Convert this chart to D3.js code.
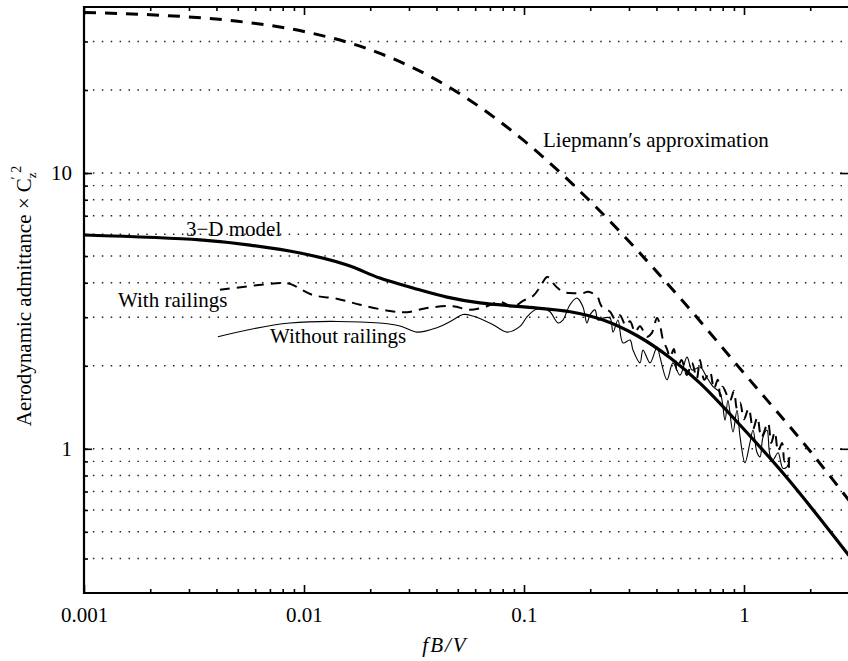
<!DOCTYPE html>
<html>
<head>
<meta charset="utf-8">
<script src="https://cdn.jsdelivr.net/npm/d3@7"></script>
<style>
  body { margin: 0; background: #fff; }
  text { font-family: "Liberation Serif", "Times New Roman", serif; fill: #000; }
</style>
</head>
<body>
<svg id="chart" width="848" height="661"></svg>
<script>
// Liepmann's approximation (thick dashed)
const freqLiepmann = [0.001, 0.002, 0.005, 0.01, 0.02, 0.05, 0.1, 0.2, 0.5, 1, 2, 3];
const valLiepmann = [38.2, 37.5, 35.5, 32.6, 28, 19.6, 13.1, 7.9, 3.6, 1.88, 0.98, 0.65];

// 3-D model (thick solid)
const freq3D = [0.001, 0.00337, 0.00568, 0.0096, 0.0157, 0.0221, 0.0313, 0.0447, 0.0631, 0.1, 0.162, 0.229, 0.327, 0.461, 0.631, 0.959, 1.568, 3];
const val3D = [5.96, 5.72, 5.48, 5.13, 4.64, 4.16, 3.83, 3.55, 3.38, 3.27, 3.14, 2.93, 2.57, 2.14, 1.73, 1.22, 0.785, 0.41];

// measured, with railings (thin dashed)
const freqWith = [0.00415, 0.0078, 0.0086, 0.011, 0.0141, 0.018, 0.0246, 0.0294, 0.0362, 0.0475, 0.0568, 0.0679, 0.0778, 0.0892, 0.0989,
  0.1099, 0.1183, 0.1273, 0.134, 0.1355, 0.1503, 0.1618, 0.1854, 0.1954, 0.2148, 0.2213, 0.2262, 0.246, 0.26, 0.2729, 0.29, 0.3034,
  0.32, 0.3366, 0.3624, 0.38, 0.4025, 0.415, 0.4285, 0.4467, 0.4611, 0.48, 0.4958, 0.52, 0.55, 0.58, 0.61, 0.631, 0.66, 0.70, 0.73,
  0.76, 0.78, 0.80, 0.864, 0.90, 0.929, 0.96, 1.0, 1.05, 1.10, 1.15, 1.20, 1.285, 1.33, 1.38, 1.43, 1.49, 1.53, 1.585, 1.60];
const valWith = [3.77, 3.99, 3.97, 3.61, 3.50, 3.33, 3.16, 3.13, 3.24, 3.29, 3.19, 3.29, 3.41, 3.27, 3.44,
  3.58, 3.86, 4.20, 4.10, 3.99, 3.71, 3.67, 3.67, 3.71, 3.58, 3.38, 3.27, 3.14, 2.95, 3.05, 2.80, 2.90,
  2.65, 2.78, 2.55, 2.62, 2.98, 2.81, 2.48, 2.30, 2.15, 2.30, 1.93, 2.10, 1.85, 2.05, 1.80, 2.10, 1.78, 1.90, 1.65,
  1.78, 1.55, 1.68, 1.50, 1.62, 1.40, 1.47, 1.28, 1.40, 1.18, 1.30, 1.10, 1.24, 1.05, 1.15, 0.98, 1.05, 0.90, 0.94, 0.82];

// measured, without railings (thin solid)
const freqWithout = [0.00406, 0.00864, 0.0221, 0.0273, 0.0326, 0.0402, 0.0475, 0.0528, 0.0586, 0.0723, 0.0837, 0.0959, 0.1032, 0.1122,
  0.1207, 0.1312, 0.1428, 0.1503, 0.1618, 0.1742, 0.1854, 0.1932, 0.1995, 0.2103, 0.2168, 0.2286, 0.246, 0.254, 0.2674, 0.2818,
  0.3034, 0.3129, 0.3366, 0.3475, 0.374, 0.4025, 0.415, 0.4467, 0.4754, 0.5117, 0.5508, 0.5807, 0.631, 0.6792, 0.7229, 0.7778,
  0.82, 0.845, 0.891, 0.929, 0.959, 1.01, 1.064, 1.099, 1.146, 1.183, 1.219, 1.272, 1.312, 1.355, 1.428, 1.503, 1.568, 1.618];
const valWithout = [2.55, 2.86, 2.86, 2.79, 2.65, 2.75, 2.93, 3.07, 3.03, 2.82, 2.65, 2.78, 3.01, 3.19,
  3.24, 3.14, 2.86, 2.93, 3.33, 3.52, 3.27, 2.86, 3.06, 3.19, 2.93, 2.98, 2.98, 2.65, 2.93, 2.42,
  2.48, 2.28, 2.05, 2.28, 2.05, 2.34, 2.15, 1.78, 2.05, 1.85, 2.15, 1.93, 1.98, 1.81, 1.68, 1.60,
  1.27, 1.50, 1.15, 1.38, 1.11, 0.89, 1.05, 1.17, 0.97, 0.935, 1.10, 1.17, 0.95, 0.912, 0.967, 0.85, 0.86, 0.935];

const xMajorTicks = [0.001, 0.01, 0.1, 1];
const xMinorTicks = [0.002, 0.003, 0.004, 0.005, 0.006, 0.007, 0.008, 0.009,
  0.02, 0.03, 0.04, 0.05, 0.06, 0.07, 0.08, 0.09,
  0.2, 0.3, 0.4, 0.5, 0.6, 0.7, 0.8, 0.9, 2];
const yMajorTicks = [1, 10];
const yGridValues = [0.4, 0.5, 0.6, 0.7, 0.8, 0.9, 1, 2, 3, 4, 5, 6, 7, 8, 9, 10, 20, 30];

const svg = d3.select("#chart");
const plotLeft = 84, plotRight = 848, plotTop = 7, plotBottom = 593;

const x = d3.scaleLog().domain([0.001, 2.97]).range([plotLeft, plotRight]);
const y = d3.scaleLog().domain([0.3, 40]).range([plotBottom, plotTop]);

svg.append("defs").append("clipPath").attr("id", "plotClip")
  .append("rect").attr("x", plotLeft).attr("y", plotTop)
  .attr("width", plotRight - plotLeft).attr("height", plotBottom - plotTop);

// dotted grid
svg.append("g")
  .selectAll("line")
  .data(yGridValues)
  .join("line")
  .attr("x1", plotLeft)
  .attr("x2", plotRight)
  .attr("y1", (d) => y(d))
  .attr("y2", (d) => y(d))
  .attr("stroke", "#222")
  .attr("stroke-width", 1.4)
  .attr("stroke-dasharray", "1.5,7.4");

// axes
const tidy = (g) => g.select(".domain").remove();
const fontSize = 21;

svg.append("g")
  .attr("transform", `translate(0,${plotBottom})`)
  .call(d3.axisBottom(x).tickValues(xMajorTicks).tickSize(-8).tickPadding(14).tickFormat(d3.format("~g")))
  .call(tidy)
  .call((g) => g.selectAll("text").attr("font-size", fontSize).attr("font-family", "Liberation Serif"));
svg.append("g")
  .attr("transform", `translate(0,${plotBottom})`)
  .call(d3.axisBottom(x).tickValues(xMinorTicks).tickSize(-4).tickFormat(""))
  .call(tidy);
svg.append("g")
  .attr("transform", `translate(0,${plotTop})`)
  .call(d3.axisTop(x).tickValues(xMajorTicks).tickSize(-8).tickFormat(""))
  .call(tidy);
svg.append("g")
  .attr("transform", `translate(0,${plotTop})`)
  .call(d3.axisTop(x).tickValues(xMinorTicks).tickSize(-4).tickFormat(""))
  .call(tidy);

svg.append("g")
  .attr("transform", `translate(${plotLeft},0)`)
  .call(d3.axisLeft(y).tickValues(yMajorTicks).tickSize(-8).tickPadding(12).tickFormat(d3.format("~g")))
  .call(tidy)
  .call((g) => g.selectAll("text").attr("font-size", fontSize).attr("font-family", "Liberation Serif"));
svg.append("g")
  .attr("transform", `translate(${plotLeft},0)`)
  .call(d3.axisLeft(y).tickValues(yGridValues).tickSize(-4).tickFormat(""))
  .call(tidy);
svg.append("g")
  .attr("transform", `translate(${plotRight},0)`)
  .call(d3.axisRight(y).tickValues(yMajorTicks).tickSize(-8).tickFormat(""))
  .call(tidy);

svg.selectAll(".tick line").attr("stroke", "#000").attr("stroke-width", 1.6);

// frame
svg.append("path")
  .attr("d", `M${plotRight},${plotTop}H${plotLeft}V${plotBottom}H${plotRight}`)
  .attr("fill", "none")
  .attr("stroke", "#000")
  .attr("stroke-width", 2.2);

// curves
const plot = svg.append("g").attr("clip-path", "url(#plotClip)");
const zipped = (fx, fv) => fx.map((f, i) => [f, fv[i]]);

const smooth = d3.line().x((d) => x(d[0])).y((d) => y(d[1])).curve(d3.curveMonotoneX);
const wiggly = d3.line().x((d) => x(d[0])).y((d) => y(d[1])).curve(d3.curveCatmullRom.alpha(0.5));

plot.append("path")
  .attr("d", wiggly(zipped(freqWithout, valWithout)))
  .attr("fill", "none").attr("stroke", "#000").attr("stroke-width", 1.1);

plot.append("path")
  .attr("d", wiggly(zipped(freqWith, valWith)))
  .attr("fill", "none").attr("stroke", "#000").attr("stroke-width", 2)
  .attr("stroke-dasharray", "10,7");

plot.append("path")
  .attr("d", wiggly(zipped(freq3D, val3D)))
  .attr("fill", "none").attr("stroke", "#000").attr("stroke-width", 3.2);

plot.append("path")
  .attr("d", smooth(zipped(freqLiepmann, valLiepmann)))
  .attr("fill", "none").attr("stroke", "#000").attr("stroke-width", 3)
  .attr("stroke-dasharray", "12,9");

// annotations
const note = (tx, ty, s) => svg.append("text").attr("x", tx).attr("y", ty).attr("font-size", fontSize).text(s);
note(543, 147, "Liepmann′s approximation");
note(186, 236, "3−D model");
note(118, 307, "With railings");
note(270, 343, "Without railings");

// axis titles
svg.append("text")
  .attr("x", 445)
  .attr("y", 652)
  .attr("text-anchor", "middle")
  .attr("font-size", fontSize)
  .attr("font-style", "italic")
  .attr("letter-spacing", 2)
  .text("fB/V");

const yTitle = svg.append("text")
  .attr("transform", "translate(31,296) rotate(-90)")
  .attr("text-anchor", "middle")
  .attr("font-size", fontSize);
yTitle.append("tspan").text("Aerodynamic admittance × C");
yTitle.append("tspan").attr("font-size", 13).attr("dy", 5).text("z");
yTitle.append("tspan").attr("font-size", 14).attr("dx", -7).attr("dy", -15).text("′ 2");
</script>
</body>
</html>
